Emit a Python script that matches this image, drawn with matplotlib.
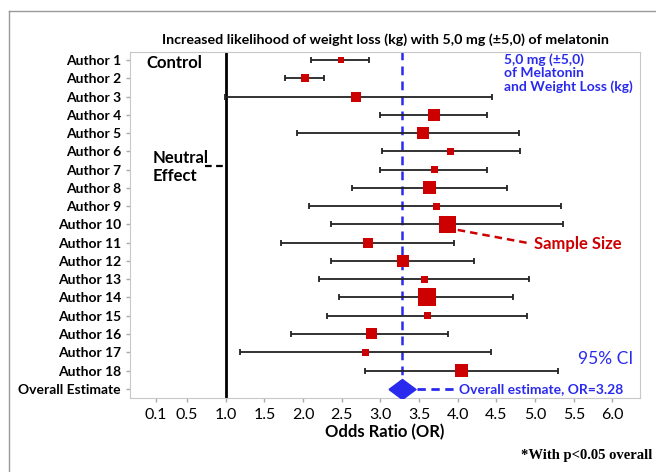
import numpy as np
import matplotlib
matplotlib.use("Agg")
import matplotlib.pyplot as plt
from matplotlib.lines import Line2D

plt.rcParams['font.family'] = ['Lato', 'DejaVu Sans']

# study data
authors = ["Author %d" % i for i in range(1, 19)]
odds = [2.49, 2.03, 2.69, 3.69, 3.55, 3.91, 3.70, 3.64, 3.72,
        3.87, 2.84, 3.29, 3.57, 3.60, 3.61, 2.88, 2.81, 4.05]
ci_low = [2.10, 1.76, 0.99, 2.99, 1.92, 3.02, 2.99, 2.63, 2.07,
          2.36, 1.71, 2.36, 2.20, 2.46, 2.31, 1.84, 1.19, 2.80]
ci_high = [2.85, 2.27, 4.44, 4.38, 4.79, 4.80, 4.38, 4.64, 5.33,
           5.36, 3.95, 4.21, 4.92, 4.71, 4.89, 3.88, 4.43, 5.29]
# relative study weight (drawn as marker size)
weights = [6, 8, 10, 12, 12, 7, 7, 13, 7, 17, 10, 12, 7, 18, 7, 11, 7, 13]
overall = 3.28
xticks = [0.1, 0.5, 1.0, 1.5, 2.0, 2.5, 3.0, 3.5, 4.0, 4.5, 5.0, 5.5, 6.0]

red = '#cc0000'
blue = '#2a2aee'

fig = plt.figure(figsize=(6.56, 4.72), dpi=100)
ax = fig.add_axes([0.198, 0.157, 0.778, 0.733])

y = np.arange(len(authors))
odds = np.array(odds)
err = [odds - np.array(ci_low), np.array(ci_high) - odds]
ax.errorbar(odds, y, xerr=err, fmt='none', ecolor='#222222', elinewidth=1.3,
            capsize=2, capthick=1.3, zorder=2)
ms = np.array(weights) / 1.389
ax.scatter(odds, y, s=ms ** 2, marker='s', color=red, zorder=3, linewidths=0)

oy = len(authors)
ax.axvline(1.0, color='black', lw=2, zorder=1)
ax.plot([overall, overall], [-0.5, oy], color=blue, lw=1.8, ls=(0, (3.5, 2.5)), zorder=1)
diamond = [(-1.35, 0), (0, 1), (1.35, 0), (0, -1), (-1.35, 0)]
ax.plot([overall], [oy], marker=diamond, ms=19.5, color=blue, mec=blue, zorder=4)
ax.plot([overall + 0.19, overall + 0.71], [oy, oy], color=blue, lw=2, ls=(0, (3, 2)))
ax.text(overall + 0.74, oy, "Overall estimate, OR=3.28", color=blue, fontsize=10,
        fontweight='bold', va='center', ha='left')

ax.set_yticks(list(y) + [oy])
ax.set_yticklabels(authors + ["Overall Estimate"], fontsize=10, fontweight='bold')
ax.set_xticks(xticks)
ax.set_xticklabels(["%.1f" % v for v in xticks], fontsize=11.5)
ax.set_xlim(-0.24, 6.36)
ax.set_ylim(oy + 0.5, -0.45)
ax.tick_params(axis='both', color='#aaaaaa', length=3, width=1)
ax.tick_params(axis='x', pad=4)
for s in ax.spines.values():
    s.set_color('#c8c8c8')

ax.set_title("Increased likelihood of weight loss (kg) with 5,0 mg (\u00b15,0) of melatonin",
             fontsize=10.3, fontweight='bold', pad=6)
ax.set_xlabel("Odds Ratio (OR)", fontsize=12, fontweight='bold', labelpad=2)

# annotations
ax.text(-0.03, 0.15, "Control", fontsize=12, fontweight='bold', va='center', ha='left')
ax.text(0.06, 5.85, "Neutral\nEffect", fontsize=12, fontweight='bold', va='center',
        ha='left', linespacing=1.12)
ax.plot([0.73, 0.96], [5.8, 5.8], color='black', lw=1.6, ls=(0, (3, 2)))
ax.text(4.6, -0.35, "5,0 mg (\u00b15,0)\nof Melatonin\nand Weight Loss (kg)",
        color=blue, fontsize=10, fontweight='bold', va='top', ha='left', linespacing=1.1)
ax.plot([4.0, 4.95], [9.3, 10.05], color=red, lw=1.8, ls=(0, (3, 2)))
ax.text(4.98, 10.05, "Sample Size", color=red, fontsize=12, fontweight='bold',
        va='center', ha='left')
ax.text(5.55, 16.35, "95% CI", color=blue, fontsize=12.5, va='center', ha='left')

fig.text(0.994, 0.035, "*With p<0.05 overall", family='Liberation Serif',
         fontweight='bold', fontsize=10.5, ha='right', va='center')

# outer frame (top and left edges visible)
fig.add_artist(Line2D([9 / 656, 1], [1 - 11 / 472, 1 - 11 / 472], color='#999999', lw=1))
fig.add_artist(Line2D([9 / 656, 9 / 656], [0, 1 - 11 / 472], color='#999999', lw=1))

fig.savefig("out.png", dpi=100)
